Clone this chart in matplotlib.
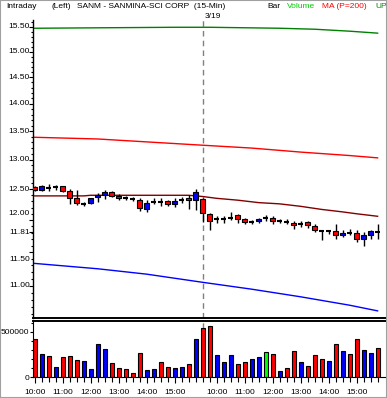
import matplotlib.pyplot as plt
import matplotlib.transforms as mtransforms
from matplotlib.patches import Rectangle
from matplotlib.ticker import FixedLocator, NullFormatter
import numpy as np

plt.rcParams['font.family'] = ['Liberation Sans', 'DejaVu Sans']

# 15-min bars, 3/18 10:00 .. 3/19 15:45
opens = [12.54, 12.48, 12.52, 12.53, 12.55, 12.47, 12.35, 12.25, 12.28, 12.37,
         12.40, 12.46, 12.39, 12.36, 12.34, 12.32, 12.18, 12.29, 12.29, 12.30,
         12.25, 12.33, 12.36, 12.32, 12.34, 12.09, 12.02, 12.02, 12.04, 12.08,
         12.02, 11.97, 11.99, 12.04, 12.04, 11.98, 11.97, 11.96, 11.94, 11.97,
         11.90, 11.83, 11.83, 11.83, 11.76, 11.80, 11.80, 11.71, 11.77, 11.81]
closes = [12.48, 12.55, 12.52, 12.53, 12.47, 12.36, 12.27, 12.25, 12.35, 12.40,
          12.45, 12.39, 12.35, 12.36, 12.34, 12.19, 12.27, 12.29, 12.29, 12.25,
          12.30, 12.33, 12.32, 12.46, 12.11, 11.99, 12.02, 12.02, 12.04, 12.01,
          11.97, 11.97, 12.02, 12.04, 11.99, 11.98, 11.97, 11.92, 11.94, 11.92,
          11.85, 11.83, 11.83, 11.76, 11.80, 11.80, 11.71, 11.76, 11.82, 11.81]
highs = [12.55, 12.57, 12.58, 12.57, 12.55, 12.50, 12.49, 12.29, 12.36, 12.43,
         12.49, 12.47, 12.42, 12.39, 12.37, 12.35, 12.33, 12.36, 12.36, 12.32,
         12.36, 12.38, 12.40, 12.50, 12.36, 12.11, 12.07, 12.07, 12.13, 12.10,
         12.04, 12.00, 12.04, 12.08, 12.07, 12.01, 12.02, 11.99, 11.99, 11.99,
         11.94, 11.83, 11.83, 11.94, 11.85, 11.86, 11.85, 11.81, 11.84, 11.94]
lows = [12.47, 12.47, 12.47, 12.48, 12.45, 12.25, 12.24, 12.22, 12.25, 12.29,
        12.34, 12.38, 12.32, 12.32, 12.30, 12.14, 12.13, 12.25, 12.23, 12.23,
        12.21, 12.28, 12.18, 12.16, 11.97, 11.85, 11.96, 11.95, 12.00, 11.96,
        11.94, 11.93, 11.96, 11.99, 11.93, 11.95, 11.94, 11.86, 11.89, 11.88,
        11.81, 11.68, 11.78, 11.71, 11.74, 11.76, 11.66, 11.59, 11.70, 11.70]

volumes = [427000, 252000, 230000, 108000, 219000, 230000, 185000, 174000, 86000, 363000,
           308000, 152000, 97000, 86000, 41000, 263000, 74000, 86000, 163000, 108000,
           97000, 108000, 141000, 419000,
           541000, 563000, 241000, 163000, 241000, 141000, 163000, 197000, 219000, 274000,
           252000, 63000, 97000, 285000, 163000, 119000, 241000, 197000, 174000, 363000,
           285000, 252000, 419000, 297000, 263000, 319000]
vol_colors = list("RBRBRRRBBBBRRRRRBBRRBBRB" + "RRBBBRRBBGRBRRBRRRBRBRRBBR")

# overlay lines, read at a few bar positions
up_idx = [0, 10, 20, 25, 30, 35, 40, 45, 49]
up_vals = [15.47, 15.48, 15.49, 15.49, 15.48, 15.47, 15.45, 15.41, 15.37]
hi_idx = [0, 9, 24, 31, 38, 45, 49]
hi_vals = [13.39, 13.36, 13.25, 13.20, 13.13, 13.07, 13.03]
ma_idx = [0, 7, 8, 22, 23, 24, 26, 29, 32, 35, 38, 41, 44, 46, 49]
ma_vals = [12.39, 12.39, 12.40, 12.40, 12.39, 12.38, 12.35, 12.32, 12.28, 12.26,
           12.22, 12.17, 12.13, 12.10, 12.06]
lo_idx = [0, 9, 16, 24, 31, 38, 45, 49]
lo_vals = [11.33, 11.25, 11.17, 11.05, 10.95, 10.84, 10.72, 10.64]

price_ticks = [11.00, 11.50, 11.81, 12.00, 12.50, 13.00, 13.50, 14.00, 14.50, 15.00, 15.50]
xtick_pos = [0, 4, 8, 12, 16, 20, 26, 30, 34, 38, 42, 46]
xtick_lab = ["10:00", "11:00", "12:00", "13:00", "14:00", "15:00"] * 2
day_break = 24

W, H = 387, 398
fig = plt.figure(figsize=(W / 100, H / 100), dpi=100)


def box(x0, y0, x1, y1):
    return [x0 / W, 1 - y1 / H, (x1 - x0) / W, (y1 - y0) / H]


cmap = {"R": "#ff0000", "B": "#0000ff", "G": "#00ff00"}
n = len(closes)
x = np.arange(n)

# price panel
ax = fig.add_axes(box(33, 20, 386, 318))
ax.set_yscale("log")
ax.set_ylim(10.54, 15.64)
ax.set_xlim(-0.25, 50.2)
for s in ["top", "right"]:
    ax.spines[s].set_visible(False)
ax.spines["left"].set_linewidth(1)
ax.spines["bottom"].set_linewidth(1.4)

ax.axvline(day_break, color="#808080", lw=1, ls=(0, (4, 3)), zorder=0)

ax.plot(up_idx, up_vals, color="#008000", lw=1)
ax.plot(hi_idx, hi_vals, color="#ff0000", lw=1)
ax.plot(ma_idx, ma_vals, color="#800000", lw=1)
ax.plot(lo_idx, lo_vals, color="#0000ff", lw=1)

for i in range(n):
    o, c = opens[i], closes[i]
    ax.vlines(i, lows[i], highs[i], color="black", lw=1, zorder=3)
    if o == c:
        ax.hlines(c, i - 0.35, i + 0.35, color="black", lw=1.5, zorder=4)
    else:
        col = "#0000ff" if c > o else "#ff0000"
        ax.add_patch(Rectangle((i - 0.35, min(o, c)), 0.7, abs(c - o),
                               facecolor=col, edgecolor="black", lw=0.8, zorder=4))

ax.yaxis.set_major_locator(FixedLocator(price_ticks))
ax.yaxis.set_minor_locator(FixedLocator(np.round(np.arange(10.6, 15.65, 0.1), 2)))
ax.yaxis.set_major_formatter(NullFormatter())
ax.yaxis.set_minor_formatter(NullFormatter())
ax.tick_params(axis="y", which="major", length=3, width=0.8)
ax.tick_params(axis="y", which="minor", length=1.5, width=0.8)
ax.set_xticks([])
shift = {12.00: 7, 11.50: -7}
for t in price_ticks:
    tr = ax.get_yaxis_transform() + mtransforms.ScaledTranslation(
        -3 / 100, shift.get(t, 0) / 100, fig.dpi_scale_trans)
    ax.text(0, t, "%.2f" % t, transform=tr, ha="right", va="center", fontsize=6)

# volume panel
axv = fig.add_axes(box(33, 321, 386, 377))
axv.set_xlim(-0.25, 50.2)
axv.set_ylim(0, 622000)
axv.spines["right"].set_visible(False)
axv.spines["top"].set_linewidth(1.4)
axv.axvline(day_break, color="#808080", lw=1, ls=(0, (4, 3)), zorder=0)
axv.bar(x, volumes, width=0.6, color=[cmap[c] for c in vol_colors],
        edgecolor="black", lw=0.8, zorder=2)
axv.set_yticks([0, 500000])
axv.set_yticklabels(["0", "500000"], fontsize=6)
axv.yaxis.set_minor_locator(FixedLocator([100000, 200000, 300000, 400000, 600000]))
axv.set_xticks(xtick_pos)
axv.set_xticklabels(xtick_lab, fontsize=6)
axv.xaxis.set_minor_locator(FixedLocator(x))
axv.tick_params(axis="y", which="major", length=2, width=0.8, pad=0.5)
axv.tick_params(axis="y", which="minor", length=1.5, width=0.8)
axv.tick_params(axis="x", which="major", length=4, width=0.8, pad=4.5)
axv.tick_params(axis="x", which="minor", length=3.5, width=0.8)

# header
def htext(px, py, s, color="black", size=6):
    fig.text(px / W, 1 - py / H, s, color=color, fontsize=size, ha="left", va="center")


htext(6, 6, "Intraday")
htext(52, 6, "(Left)")
htext(77, 6, "SANM - SANMINA-SCI CORP  (15-Min)")
htext(267, 6, "Bar")
htext(287, 6, "Volume", "#00cc00")
htext(322, 6, "MA (P=200)", "#ff0000")
htext(375, 6, "UP", "#008000")
htext(205, 16, "3/19")

fig.add_artist(Rectangle((0, 0), 1, 1, transform=fig.transFigure, fill=False,
                         edgecolor="#a0a0a0", lw=1.5))

fig.savefig("out.png", dpi=100)
